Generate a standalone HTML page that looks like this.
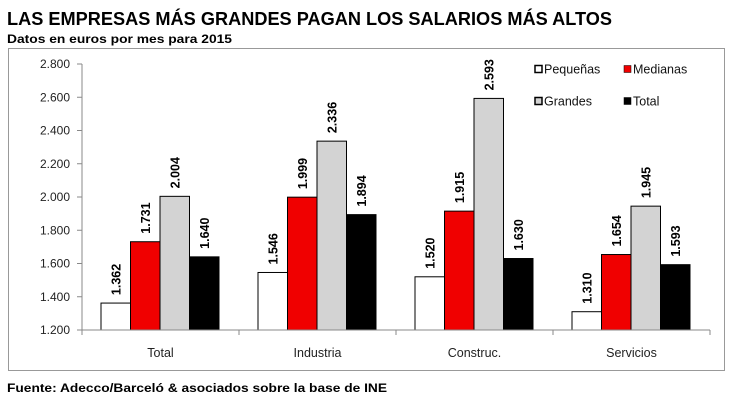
<!DOCTYPE html>
<html><head><meta charset="utf-8"><style>
body{margin:0;background:#fff;width:731px;height:404px;overflow:hidden;font-family:"Liberation Sans",sans-serif}
svg text{font-family:"Liberation Sans",sans-serif}
</style></head><body>
<svg width="731" height="404">
<text x="7" y="25" font-size="18.5" font-weight="bold" textLength="605" lengthAdjust="spacingAndGlyphs">LAS EMPRESAS MÁS GRANDES PAGAN LOS SALARIOS MÁS ALTOS</text>
<text x="7" y="43" font-size="11.5" font-weight="bold" textLength="225" lengthAdjust="spacingAndGlyphs">Datos en euros por mes para 2015</text>
<rect x="8.5" y="48.5" width="716" height="322" fill="none" stroke="#999"/>
<g id="plot"></g>
<text x="7" y="392" font-size="12" font-weight="bold" textLength="380" lengthAdjust="spacingAndGlyphs">Fuente: Adecco/Barceló &amp; asociados sobre la base de INE</text>
</svg>
<script>
const categories=["Total","Industria","Construc.","Servicios"];
const seriesNames=["Pequeñas","Medianas","Grandes","Total"];
const pequenas=[1362,1546,1520,1310];
const medianas=[1731,1999,1915,1654];
const grandes=[2004,2336,2593,1945];
const totals=[1640,1894,1630,1593];
const yTicks=[1200,1400,1600,1800,2000,2200,2400,2600,2800];
const fills=["#fff","#f00000","#d3d3d3","#000"];
const series=[pequenas,medianas,grandes,totals];
const NS="http://www.w3.org/2000/svg";
const g=document.getElementById("plot");
const x0=82,x1=710,yb=330,yt=64,ymin=1200,ymax=2800;
const y=v=>yb-(v-ymin)/(ymax-ymin)*(yb-yt);
const gw=(x1-x0)/categories.length;
const bw=29.5;
function mk(t,a){const e=document.createElementNS(NS,t);for(const k in a)e.setAttribute(k,a[k]);g.appendChild(e);return e;}
const fmt=v=>{const s=String(v);return s.length>3?s.slice(0,-3)+"."+s.slice(-3):s;};
yTicks.forEach(v=>{
 let t=mk("text",{x:x0-12,y:y(v)+4,"font-size":12,"text-anchor":"end",fill:"#222"});t.textContent=fmt(v);
 
 
 let l=mk("line",{x1:x0-5,x2:x0,y1:y(v),y2:y(v),stroke:"#888"});
 
 
});
let ya=mk("line",{x1:x0,x2:x0,y1:yt,y2:yb,stroke:"#888"});


categories.forEach((c,i)=>{
 const gx=x0+i*gw;
 series.forEach((s,j)=>{
  const bx=gx+19+j*bw, v=s[i];
  let r=mk("rect",{x:bx,y:y(v),width:bw,height:yb-y(v),fill:fills[j],stroke:"#000","stroke-width":1});
  
  
  const cx=bx+bw/2+5, cy=y(v)-8;
  let t=mk("text",{x:cx,y:cy,"font-size":12.5,"font-weight":"bold",transform:`rotate(-90 ${cx} ${cy})`});
  t.textContent=fmt(v);
  
  
 });
 let t=mk("text",{x:gx+gw/2,y:357,"font-size":12.5,"text-anchor":"middle",fill:"#222"});t.textContent=c;
 
 
});
for(let i=0;i<=categories.length;i++){
 let l=mk("line",{x1:x0+i*gw,x2:x0+i*gw,y1:yb,y2:yb+5,stroke:"#888"});
 
 
}
let xa=mk("line",{x1:x0,x2:x1,y1:yb,y2:yb,stroke:"#888"});


const lp=[[535,69],[624,69],[535,101],[624,101]];
seriesNames.forEach((n,j)=>{
 let r=mk("rect",{x:lp[j][0],y:lp[j][1]-3.5,width:7,height:7,fill:fills[j],stroke:"#000","stroke-width":j===0||j===2?1.5:0.5});
 
 
 let t=mk("text",{x:lp[j][0]+9,y:lp[j][1]+4.5,"font-size":12.5,fill:"#111"});t.textContent=n;
 
 
});
</script>
</body></html>
